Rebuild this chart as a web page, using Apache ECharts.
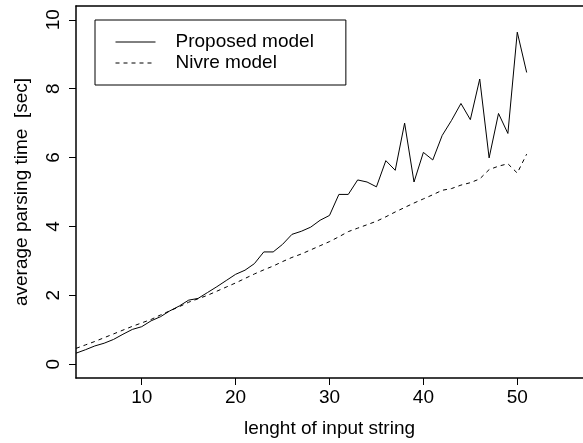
<!DOCTYPE html>
<html>
<head>
<meta charset="utf-8">
<script src="https://cdn.jsdelivr.net/npm/echarts@6/dist/echarts.min.js"></script>
<style>
  html, body { margin: 0; padding: 0; background: #fff; }
  #chart { width: 583px; height: 443px; }
</style>
</head>
<body>
<div id="chart"></div>
<script>
// string lengths 3..51
const lengths = [3, 4, 5, 6, 7, 8, 9, 10, 11, 12, 13, 14, 15, 16, 17, 18, 19, 20, 21, 22, 23, 24, 25, 26, 27,
  28, 29, 30, 31, 32, 33, 34, 35, 36, 37, 38, 39, 40, 41, 42, 43, 44, 45, 46, 47, 48, 49, 50, 51]
const proposed = [0.32, 0.42, 0.53, 0.61, 0.72, 0.87, 1.01, 1.09, 1.26, 1.38, 1.55, 1.69, 1.86, 1.91, 2.08,
  2.25, 2.43, 2.61, 2.73, 2.92, 3.26, 3.26, 3.48, 3.77, 3.86, 3.98, 4.18, 4.32, 4.93, 4.93, 5.35, 5.29,
  5.15, 5.91, 5.63, 7.0, 5.29, 6.15, 5.93, 6.64, 7.08, 7.57, 7.1, 8.28, 5.99, 7.28, 6.7, 9.64, 8.47]
const nivre = [0.46, 0.56, 0.66, 0.77, 0.88, 0.99, 1.1, 1.2, 1.3, 1.43, 1.55, 1.67, 1.8, 1.9, 2.0,
  2.12, 2.24, 2.36, 2.49, 2.62, 2.74, 2.85, 2.98, 3.1, 3.2, 3.32, 3.44, 3.56, 3.7, 3.85, 3.95, 4.05,
  4.15, 4.28, 4.42, 4.55, 4.68, 4.8, 4.92, 5.05, 5.1, 5.2, 5.27, 5.38, 5.65, 5.75, 5.82, 5.55, 6.1]
const xTicks = [10, 20, 30, 40, 50]
const yTicks = [0, 2, 4, 6, 8, 10]

const font = 'Liberation Sans, Arial, sans-serif'

const chart = echarts.init(document.getElementById('chart'), null, { renderer: 'canvas' })

function pairs(ys) {
  return lengths.map((x, i) => [x, ys[i]])
}

const axisLineStyle = { color: '#000', width: 1.5 }

const option = {
  animation: false,
  backgroundColor: '#fff',
  textStyle: { fontFamily: font, color: '#000' },
  // right edge of the frame falls just outside the picture, like the cropped original
  grid: {
    left: 76,
    top: 6,
    right: -2,
    bottom: 64,
  },
  legend: {
    orient: 'vertical',
    left: 95,
    top: 20,
    padding: [12, 32, 12, 20],
    itemGap: 1,
    itemWidth: 40,
    itemHeight: 14,
    borderColor: '#000',
    borderWidth: 1,
    itemStyle: { opacity: 0 },
    lineStyle: { width: 1 },
    textStyle: {
      fontFamily: font,
      fontSize: 19,
      lineHeight: 20,
      color: '#000',
      padding: [0, 0, 0, 15],
    },
    data: ['Proposed model', 'Nivre model'],
  },
  xAxis: [
    {
      type: 'value',
      min: 3,
      max: 57,
      name: 'lenght of input string',
      nameLocation: 'middle',
      nameGap: 41,
      nameTextStyle: { fontFamily: font, fontSize: 19, color: '#000' },
      axisLine: { show: true, onZero: false, lineStyle: axisLineStyle },
      axisTick: { show: true, length: 7, customValues: xTicks, lineStyle: { color: '#000' } },
      axisLabel: { customValues: xTicks, fontFamily: font, fontSize: 19, color: '#000', margin: 10 },
      splitLine: { show: false },
    },
    {
      // top edge of the frame
      type: 'value',
      position: 'top',
      min: 3,
      max: 57,
      axisLine: { show: true, onZero: false, lineStyle: axisLineStyle },
      axisTick: { show: false },
      axisLabel: { show: false },
      splitLine: { show: false },
    },
  ],
  yAxis: {
    type: 'value',
    min: -0.4,
    max: 10.4,
    name: 'average parsing time  [sec]',
    nameLocation: 'middle',
    nameRotate: 90,
    nameGap: 45,
    nameTextStyle: { fontFamily: font, fontSize: 19, color: '#000' },
    axisLine: { show: true, onZero: false, lineStyle: axisLineStyle },
    axisTick: { show: true, length: 7, customValues: yTicks, lineStyle: { color: '#000' } },
    axisLabel: { customValues: yTicks, rotate: 90, fontFamily: font, fontSize: 19, color: '#000', margin: 13 },
    splitLine: { show: false },
  },
  series: [
    {
      name: 'Proposed model',
      type: 'line',
      symbol: 'none',
      lineStyle: { color: '#000', width: 1 },
      itemStyle: { color: '#000' },
      data: pairs(proposed),
    },
    {
      name: 'Nivre model',
      type: 'line',
      symbol: 'none',
      lineStyle: { color: '#000', width: 1, type: [4, 4] },
      itemStyle: { color: '#000' },
      data: pairs(nivre),
    },
  ],
}

chart.setOption(option)
</script>
</body>
</html>
